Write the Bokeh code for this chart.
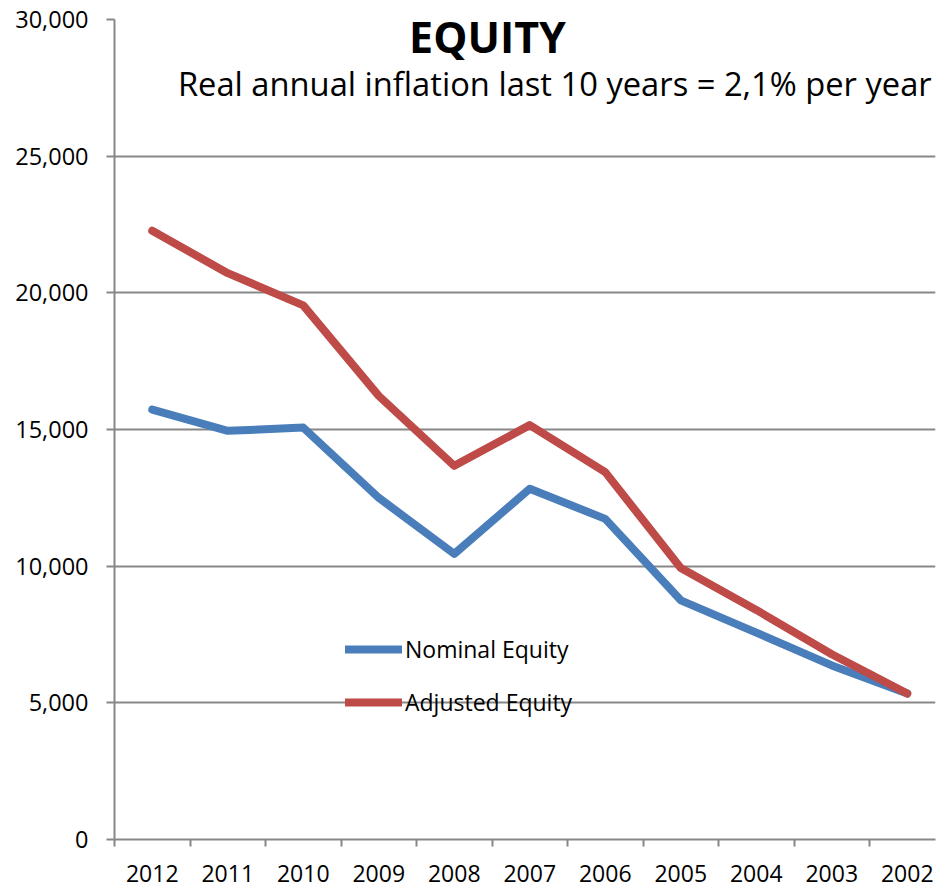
from bokeh.plotting import figure
from bokeh.models import (Range1d, FixedTicker, NumeralTickFormatter, Legend,
                          LegendItem, Label, ColumnDataSource)
from bokeh.embed import file_html
from bokeh.resources import INLINE

years = ["2012", "2011", "2010", "2009", "2008", "2007", "2006", "2005", "2004", "2003", "2002"]
nominal_equity = [15730, 14950, 15070, 12500, 10450, 12830, 11730, 8750, 7570, 6370, 5340]
adjusted_equity = [22270, 20720, 19540, 16230, 13670, 15160, 13440, 9930, 8400, 6780, 5340]
y_ticks = [0, 5000, 10000, 15000, 20000, 25000, 30000]
title_text = "EQUITY"
subtitle_text = "Real annual inflation last 10 years = 2,1% per year"

FONT = "Open Sans"
GRID = "#878787"
BLUE = "#4A7EBB"
RED = "#BE4B48"

idx = list(range(len(years)))
src = ColumnDataSource(dict(x=idx, nominal=nominal_equity, adjusted=adjusted_equity))

p = figure(width=941, height=888, output_backend="svg", toolbar_location=None,
           x_range=Range1d(-0.5, 10.374), y_range=Range1d(0, 30000),
           min_border_left=114, min_border_top=19, min_border_right=6,
           min_border_bottom=49, title=None)
p.outline_line_color = None
p.background_fill_color = "white"
p.border_fill_color = "white"

# y axis
p.yaxis.ticker = FixedTicker(ticks=y_ticks)
p.yaxis.formatter = NumeralTickFormatter(format="0,0")
p.yaxis.axis_line_color = GRID
p.yaxis.axis_line_width = 2
p.yaxis.major_tick_line_color = GRID
p.yaxis.major_tick_line_width = 2
p.yaxis.major_tick_out = 8
p.yaxis.major_tick_in = 0
p.yaxis.minor_tick_line_color = None
p.yaxis.major_label_standoff = 18
p.yaxis.major_label_text_font = FONT
p.yaxis.major_label_text_font_size = "23.5px"
p.yaxis.major_label_text_color = "black"

# x axis: labels centred on categories, tick marks between categories
p.xaxis.ticker = FixedTicker(ticks=idx, minor_ticks=[i - 0.5 for i in idx] + [len(idx) - 0.5])
p.xaxis.major_label_overrides = {i: y for i, y in zip(idx, years)}
p.xaxis.axis_line_color = GRID
p.xaxis.axis_line_width = 2
p.xaxis.major_tick_line_color = None
p.xaxis.major_tick_out = 0
p.xaxis.major_tick_in = 0
p.xaxis.minor_tick_line_color = GRID
p.xaxis.minor_tick_line_width = 2
p.xaxis.minor_tick_out = 7
p.xaxis.minor_tick_in = 0
p.xaxis.major_label_standoff = 18
p.xaxis.major_label_text_font = FONT
p.xaxis.major_label_text_font_size = "23px"
p.xaxis.major_label_text_color = "black"

p.xgrid.grid_line_color = None
p.ygrid.ticker = FixedTicker(ticks=y_ticks)
p.ygrid.grid_line_color = GRID
p.ygrid.grid_line_width = 2

r1 = p.line("x", "nominal", source=src, line_color=BLUE, line_width=8,
            line_cap="round", line_join="round")
r2 = p.line("x", "adjusted", source=src, line_color=RED, line_width=8,
            line_cap="round", line_join="round")

legend = Legend(items=[LegendItem(label="Nominal Equity", renderers=[r1]),
                       LegendItem(label="Adjusted Equity", renderers=[r2])],
                location=(231, 121), padding=0, margin=0, spacing=21,
                glyph_width=57, glyph_height=30, label_height=30,
                label_standoff=3, label_text_font=FONT,
                label_text_font_size="23px", label_text_color="black",
                border_line_color=None, background_fill_alpha=0)
p.add_layout(legend)

p.add_layout(Label(x=4.44, y=29380, text=title_text, text_font=FONT,
                   text_font_style="bold", text_font_size="43px",
                   text_align="center", text_baseline="alphabetic",
                   text_color="black"))
p.add_layout(Label(x=0.34, y=27670, text=subtitle_text, text_font=FONT,
                   text_font_size="32.7px", text_align="left",
                   text_baseline="alphabetic", text_color="black"))

open("out.html", "w").write(file_html(p, INLINE))
